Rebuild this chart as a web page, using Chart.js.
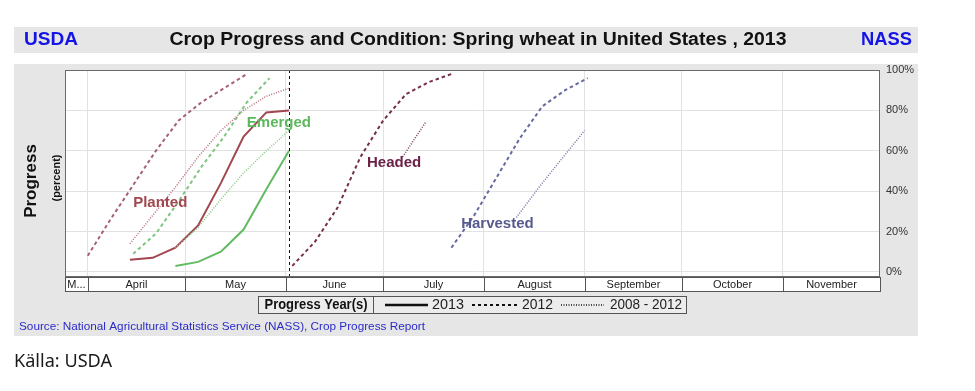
<!DOCTYPE html>
<html>
<head>
<meta charset="utf-8">
<script src="https://cdn.jsdelivr.net/npm/chart.js@4.4.0/dist/chart.umd.min.js"></script>
<style>
  body { margin: 0; background: #fff; }
  canvas { display: block; }
</style>
</head>
<body>
<canvas id="myChart" width="975" height="391"></canvas>
<script>
// weekly values (dates are MM-DD, percent done)
const planted2013Weeks = ['04-14','04-21','04-28','05-05','05-12','05-19','05-26','06-02'];
const planted2013 = [6, 7, 12, 23, 44, 67, 79, 80];
const planted2012Weeks = ['04-01','04-08','04-15','04-22','04-29','05-06','05-13','05-20'];
const planted2012 = [8, 26, 43, 60, 75, 84, 91, 98];
const plantedAvgWeeks = ['04-14','04-21','04-28','05-05','05-12','05-19','05-26','06-02'];
const plantedAvg = [14, 28, 42, 57, 70, 80, 87, 91];

const emerged2013Weeks = ['04-28','05-05','05-12','05-19','05-26','06-02'];
const emerged2013 = [3, 5, 10, 21, 41, 60];
const emerged2012Weeks = ['04-15','04-22','04-29','05-06','05-13','05-20','05-27'];
const emerged2012 = [9, 19, 35, 52, 67, 84, 96];
const emergedAvgWeeks = ['04-28','05-05','05-12','05-19','05-26','06-02'];
const emergedAvg = [12, 22, 36, 49, 60, 70];

const headed2012Weeks = ['06-03','06-10','06-17','06-24','07-01','07-08','07-15','07-22'];
const headed2012 = [3, 15, 32, 57, 75, 88, 94, 98];
const headedAvgWeeks = ['07-07','07-14'];
const headedAvg = [57, 74];

const harvested2012Weeks = ['07-22','07-29','08-05','08-12','08-19','08-26','09-02'];
const harvested2012 = [12, 28, 47, 66, 82, 90, 96];
const harvestedAvgWeeks = ['08-11','08-18','08-25','09-01'];
const harvestedAvg = [27, 42, 56, 70];

const currentWeek = '06-02';

const monthLabels = ['M...','April','May','June','July','August','September','October','November'];
const monthEdges = ['03-25','04-01','05-01','06-01','07-01','08-01','09-01','10-01','11-01','12-01'];
const yTicks = [0, 20, 40, 60, 80, 100];

const stageNames = ['Planted','Emerged','Headed','Harvested'];
const stageLabelAt = ['04-15','05-20','06-26','07-25'];
const stageLabelPct = [34, 74, 54, 24];
const stageColors = ['#a0474f','#5cb85c','#6b2148','#575a8f'];

const monthStart = [0,31,59,90,120,151,181,212,243,273,304,334];
function doy(s){
    let p = s.split('-');
    return monthStart[parseInt(p[0]) - 1] + parseInt(p[1]);
}
function pts(weeks, vals){
    return weeks.map((w,i) => ({x: doy(w), y: vals[i]}));
}
function ds(weeks, vals, color, kind){
    let d = {
        data: pts(weeks, vals),
        borderColor: color,
        pointRadius: 0,
        tension: 0,
        fill: false
    };
    if(kind == 'solid'){ d.borderWidth = 2; }
    if(kind == 'dash'){ d.borderWidth = 2; d.borderDash = [3.5,3]; }
    if(kind == 'dot'){ d.borderWidth = 1.5; d.borderDash = [1,1.5]; }
    return d;
}

function fitText(ctx, text, x, y, width, align){
    let w = ctx.measureText(text).width;
    ctx.save();
    ctx.translate(x, y);
    ctx.scale(width / w, 1);
    ctx.textAlign = align;
    ctx.fillText(text, 0, 0);
    ctx.restore();
}

const backdrop = {
    id: 'backdrop',
    beforeDraw(chart){
        const c = chart.ctx;
        const a = chart.chartArea;
        c.save();
        c.fillStyle = '#fff';
        c.fillRect(0, 0, chart.width, chart.height);
        c.fillStyle = '#e6e6e6';
        c.fillRect(14, 27, 904, 26);
        c.fillRect(14, 64, 904, 272);
        c.fillStyle = '#fff';
        c.fillRect(a.left, a.top, a.right - a.left, a.bottom - a.top);
        c.restore();
    },
    beforeDatasetsDraw(chart){
        const c = chart.ctx;
        const a = chart.chartArea;
        const x = chart.scales.x.getPixelForValue(doy(currentWeek));
        c.save();
        c.strokeStyle = '#111';
        c.lineWidth = 1;
        c.setLineDash([3,3]);
        c.beginPath();
        c.moveTo(Math.round(x) + 0.5, a.top);
        c.lineTo(Math.round(x) + 0.5, a.bottom);
        c.stroke();
        c.restore();
    },
    afterDatasetsDraw(chart){
        const c = chart.ctx;
        const a = chart.chartArea;
        const xs = chart.scales.x;
        const ys = chart.scales.y;
        c.save();
        // stage names on the curves
        c.font = 'bold 15px "Liberation Sans", Arial, sans-serif';
        c.textBaseline = 'middle';
        c.textAlign = 'left';
        stageNames.forEach((n,i) => {
            c.fillStyle = stageColors[i];
            c.fillText(n, xs.getPixelForValue(doy(stageLabelAt[i])), ys.getPixelForValue(stageLabelPct[i]));
        });
        // plot frame
        c.strokeStyle = '#6a6a6a';
        c.lineWidth = 1;
        c.strokeRect(a.left + 0.5, a.top + 0.5, a.right - a.left - 1, a.bottom - a.top);
        // month boxes
        c.font = '11px "Liberation Sans", Arial, sans-serif';
        c.textAlign = 'center';
        for(let i = 0; i < monthLabels.length; i++){
            let x0 = Math.round(xs.getPixelForValue(doy(monthEdges[i])));
            let x1 = Math.round(xs.getPixelForValue(doy(monthEdges[i+1])));
            c.fillStyle = '#fff';
            c.fillRect(x0, 277, x1 - x0, 14);
            c.strokeStyle = '#555';
            c.strokeRect(x0 + 0.5, 277.5, x1 - x0, 14);
            c.fillStyle = '#222';
            c.fillText(monthLabels[i], (x0 + x1) / 2, 285);
        }
        // titles
        c.textBaseline = 'middle';
        c.fillStyle = '#1414e6';
        c.font = 'bold 18px "Liberation Sans", Arial, sans-serif';
        fitText(c, 'USDA', 24, 40, 54, 'left');
        fitText(c, 'NASS', 912, 40, 51, 'right');
        c.fillStyle = '#111';
        fitText(c, 'Crop Progress and Condition: Spring wheat in United States , 2013', 478, 40, 617, 'center');
        // y title
        c.save();
        c.translate(31, 181);
        c.rotate(-Math.PI / 2);
        c.font = 'bold 17px "Liberation Sans", Arial, sans-serif';
        c.textAlign = 'center';
        c.fillText('Progress', 0, 0);
        c.restore();
        c.save();
        c.translate(57, 178);
        c.rotate(-Math.PI / 2);
        c.font = 'bold 11px "Liberation Sans", Arial, sans-serif';
        c.textAlign = 'center';
        c.fillText('(percent)', 0, 0);
        c.restore();
        // legend box
        c.fillStyle = '#ececec';
        c.fillRect(258, 296, 428, 17);
        c.strokeStyle = '#555';
        c.strokeRect(258.5, 296.5, 428, 17);
        c.strokeRect(258.5, 296.5, 115, 17);
        c.fillStyle = '#111';
        c.font = 'bold 14px "Liberation Sans", Arial, sans-serif';
        fitText(c, 'Progress Year(s)', 316, 305, 103, 'center');
        c.font = '14px "Liberation Sans", Arial, sans-serif';
        const legItems = [['2013', 385, 428, 432, 32, []], ['2012', 472, 517, 522, 31, [3,3]], ['2008 - 2012', 561, 604, 610, 72, [1,1.5]]];
        legItems.forEach(it => {
            c.strokeStyle = '#111';
            c.lineWidth = it[5].length ? 2 : 2.5;
            if(it[5].length == 2 && it[5][0] == 1){ c.lineWidth = 1.5; }
            c.setLineDash(it[5]);
            c.beginPath();
            c.moveTo(it[1], 305);
            c.lineTo(it[2], 305);
            c.stroke();
            c.setLineDash([]);
            c.fillStyle = '#222';
            fitText(c, it[0], it[3], 305, it[4], 'left');
        });
        // source
        c.fillStyle = '#2b2bc8';
        c.font = '11px "Liberation Sans", Arial, sans-serif';
        fitText(c, 'Source: National Agricultural Statistics Service (NASS), Crop Progress Report', 19, 327, 406, 'left');
        c.fillStyle = '#1a1a1a';
        c.font = '18px "Noto Sans", "Open Sans", sans-serif';
        fitText(c, 'Källa: USDA', 14, 362, 98, 'left');
        c.restore();
    }
};

const ctx = document.getElementById('myChart');
let chart = new Chart(ctx, {
    type: 'line',
    data: {
        datasets: [
            ds(plantedAvgWeeks, plantedAvg, '#b56f7c', 'dot'),
            ds(emergedAvgWeeks, emergedAvg, '#86c686', 'dot'),
            ds(headedAvgWeeks, headedAvg, '#7a3a5c', 'dot'),
            ds(harvestedAvgWeeks, harvestedAvg, '#7275a3', 'dot'),
            ds(planted2012Weeks, planted2012, '#a5607a', 'dash'),
            ds(emerged2012Weeks, emerged2012, '#80c480', 'dash'),
            ds(headed2012Weeks, headed2012, '#74304f', 'dash'),
            ds(harvested2012Weeks, harvested2012, '#666a9e', 'dash'),
            ds(planted2013Weeks, planted2013, '#a0474f', 'solid'),
            ds(emerged2013Weeks, emerged2013, '#62bb62', 'solid')
        ]
    },
    options: {
        responsive: false,
        animation: false,
        layout: { padding: { left: 65, top: 70, right: 50, bottom: 115 } },
        plugins: { legend: { display: false }, tooltip: { enabled: false } },
        scales: {
            x: {
                type: 'linear',
                min: doy(monthEdges[0]),
                max: doy(monthEdges[monthEdges.length - 1]),
                afterBuildTicks: s => { s.ticks = monthEdges.slice(1, -1).map(m => ({value: doy(m)})); },
                afterFit: s => { s.height = 0; },
                ticks: { display: false },
                grid: { color: '#e2e2e2', drawTicks: false },
                border: { display: false }
            },
            y: {
                position: 'right',
                min: -2,
                max: 100,
                afterBuildTicks: s => { s.ticks = yTicks.map(v => ({value: v})); },
                afterFit: s => { s.width = 45; },
                ticks: {
                    callback: v => v + '%',
                    color: '#333',
                    padding: 6,
                    font: { family: '"Liberation Sans", Arial, sans-serif', size: 11 }
                },
                grid: { color: '#e2e2e2', drawTicks: false },
                border: { display: false }
            }
        }
    },
    plugins: [backdrop]
});
</script>
</body>
</html>
